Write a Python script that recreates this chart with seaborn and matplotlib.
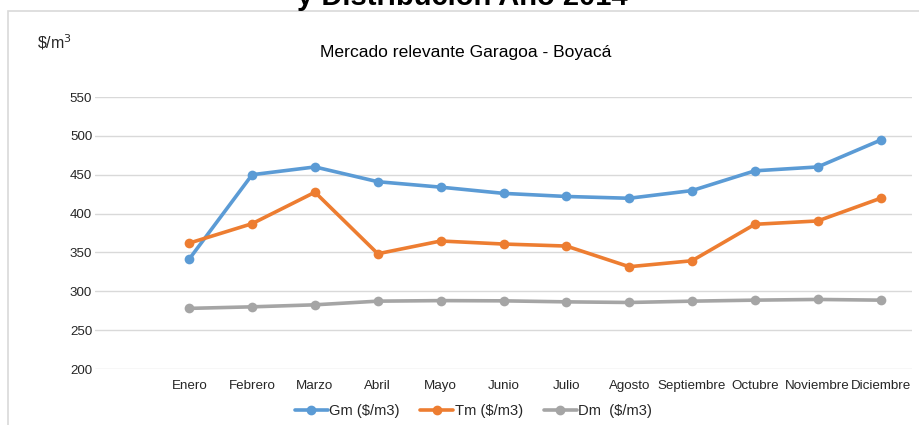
import numpy as np
import pandas as pd
import matplotlib
matplotlib.use("Agg")
import matplotlib.pyplot as plt
import seaborn as sns
from matplotlib.patches import Rectangle

MONTHS = ["Enero", "Febrero", "Marzo", "Abril", "Mayo", "Junio", "Julio",
          "Agosto", "Septiembre", "Octubre", "Noviembre", "Diciembre"]
GM = [341.5, 450, 460, 441, 434, 426, 422, 419.7, 429.6, 455, 460, 494.5]
TM = [362, 387, 427.5, 348.3, 364.7, 360.8, 358.2, 331.6, 339.3, 386.2, 390.5, 419.7]
DM = [278, 280, 282.6, 287.3, 288, 287.7, 286.4, 285.6, 287.3, 288.6, 289.5, 288.6]
SERIES = ["Gm ($/m3)", "Tm ($/m3)", "Dm  ($/m3)"]
COLORS = ["#5B9BD5", "#ED7D31", "#A5A5A5"]
YTICKS = [200, 250, 300, 350, 400, 450, 500, 550]

sns.set_theme(style="white")
plt.rcParams["font.family"] = ["Liberation Sans", "DejaVu Sans"]

# long table, month positions 1..12 (slot 0 is left empty like the original)
rows = []
for name, vals in zip(SERIES, [GM, TM, DM]):
    for i, v in enumerate(vals):
        rows.append({"pos": i + 1, "value": v, "serie": name})
df = pd.DataFrame(rows)

fig = plt.figure(figsize=(9.19, 4.25), dpi=100)
ax = fig.add_axes([95 / 919, 1 - 369 / 425, (912 - 95) / 919, (369 - 97) / 425])

sns.lineplot(data=df, x="pos", y="value", hue="serie", palette=COLORS,
             marker="o", markersize=7, markeredgewidth=0, linewidth=2.6,
             ax=ax, legend=False)

ax.set_xlim(-0.5, 12.5)
ax.set_ylim(200, 550)
ax.set_yticks(YTICKS)
ax.set_xticks(range(1, 13))
ax.set_xticklabels(MONTHS, va="baseline")
ax.tick_params(axis="both", labelsize=9.6, colors="#262626", length=0)
ax.tick_params(axis="x", pad=14.5)
ax.tick_params(axis="y", pad=2)
ax.yaxis.grid(True, color="#d9d9d9", linewidth=1)
ax.set_axisbelow(True)
for s in ax.spines.values():
    s.set_visible(False)
ax.set_xlabel("")
ax.set_ylabel("")

# legend
handles = [plt.Line2D([], [], color=c, marker="o", markersize=6, linewidth=2.6)
           for c in COLORS]
fig.legend(handles, SERIES, loc="center", bbox_to_anchor=(0.515, 1 - 411 / 425),
           ncol=3, frameon=False, fontsize=10.6, handlelength=2.25,
           handletextpad=0.1, columnspacing=1.4)

# chart frame and texts
fig.patches.append(Rectangle((8 / 919, -0.01), 1.0, 1 - 11 / 425 + 0.01,
                             transform=fig.transFigure, fill=False,
                             edgecolor="#d9d9d9", linewidth=1.2))
fig.text(462 / 919, 1 - 5 / 425, "y Distribución Año 2014", ha="center",
         va="baseline", fontsize=21, fontweight="bold", color="black")
fig.text(37 / 919, 1 - 42 / 425, r"\$/m$^{3}$", ha="left", va="center",
         fontsize=11.5, color="#262626")
fig.text(466 / 919, 1 - 52 / 425, "Mercado relevante Garagoa - Boyacá",
         ha="center", va="center", fontsize=12.6, color="black")

fig.savefig("out.png", dpi=100)
